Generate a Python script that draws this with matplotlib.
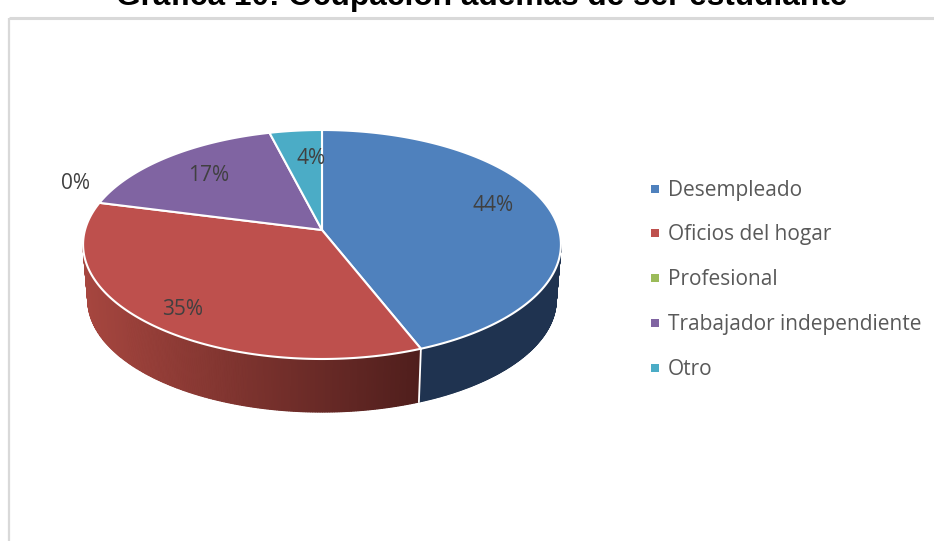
import numpy as np
import matplotlib
matplotlib.use("Agg")
import matplotlib.pyplot as plt

title = "Gráfica 10: Ocupación además de ser estudiante"
categories = ["Desempleado", "Oficios del hogar", "Profesional", "Trabajador independiente", "Otro"]
values = [44, 35, 0, 17, 4]
colors = ["#4F81BD", "#BE504D", "#9BBB59", "#8064A2", "#4BACC6"]
side_left = {0: "#1F3350", 1: "#A6463F"}
side_right = {0: "#1F3350", 1: "#4F1E1C"}
label_pos = [(493, 204), (183, 308), (75, 182), (209, 174), (311, 157)]

fig = plt.figure(figsize=(9.34, 5.41), dpi=100)
ax = fig.add_axes([0, 0, 1, 1])
ax.set_xlim(0, 934)
ax.set_ylim(541, 0)
ax.axis("off")

# perspective projection of the pie disc
AX, AY, K, A, C = 322.0, 230.0, 237.0, 112.66, 0.1266
DEPTH, SHRINK = 55.6, 0.98


def project(theta):
    u, v = np.sin(theta), np.cos(theta)
    d = 1 + C * v
    return K * u / d, A * v / d


def top(theta):
    x, y = project(theta)
    return AX + x, AY - y


def bottom(theta):
    x, y = project(theta)
    return AX + SHRINK * x, AY - SHRINK * y + DEPTH


# frame
ax.plot([9, 9], [541, 18], color="#D9D9D9", lw=1.6, solid_capstyle="butt")
ax.plot([9, 934], [18, 18], color="#D9D9D9", lw=2.2, solid_capstyle="butt")

ends = np.cumsum(values) / np.sum(values) * 2 * np.pi
starts = np.concatenate([[0], ends[:-1]])

# front extremes of the rim (where the side wall begins and ends)
fine = np.linspace(0, 2 * np.pi, 1441)
fx, _ = project(fine)
t_r, t_l = fine[np.argmax(fx)], fine[np.argmin(fx)]


def hex2rgb(c):
    return np.array(matplotlib.colors.to_rgb(c))


# side walls
for i, (s, e) in enumerate(zip(starts, ends)):
    a0, a1 = max(s, t_r), min(e, t_l)
    if a1 <= a0 or i not in side_left:
        continue
    cl, cr = hex2rgb(side_left[i]), hex2rgb(side_right[i])
    th = np.linspace(a0, a1, 200)
    tx, ty = top(th)
    bx, by = bottom(th)
    ax.fill(np.r_[tx, bx[::-1]], np.r_[ty, by[::-1]], color=(cl + cr) / 2, lw=0, zorder=1.5)
    xl = top(np.array([a1]))[0][0]
    xr = top(np.array([a0]))[0][0]
    for j in range(len(th) - 1):
        f = (tx[j:j + 2].mean() - xl) / (xr - xl)
        col = cl * (1 - f) + cr * f
        ax.fill(np.r_[tx[j:j + 2], bx[j:j + 2][::-1]], np.r_[ty[j:j + 2], by[j:j + 2][::-1]],
                color=col, lw=0.9, zorder=2)
    if a0 > t_r:
        ax.plot([tx[0], bx[0]], [ty[0], by[0]], color="white", lw=1.3, zorder=3)

# top faces
for i, (s, e) in enumerate(zip(starts, ends)):
    if e - s <= 0:
        continue
    th = np.linspace(s, e, 300)
    x, y = top(th)
    ax.fill(np.r_[AX, x], np.r_[AY, y], facecolor=colors[i], edgecolor="white",
            lw=1.5, joinstyle="round", zorder=4)

# data labels
for v, (lx, ly) in zip(values, label_pos):
    ax.text(lx, ly + 1.5, f"{v}%", ha="center", va="center", fontsize=15,
            family="Open Sans", color="#404040", zorder=5)

# legend
legend_y = [189, 233, 278, 323, 368]
for c, name, ly in zip(colors, categories, legend_y):
    ax.scatter([655], [ly], marker="s", s=34, color=c, linewidths=0, zorder=5)
    ax.text(668, ly + 1.5, name, ha="left", va="center", fontsize=15,
            family="Open Sans", color="#595959", zorder=5)

ax.text(482, 4.5, title, ha="center", va="baseline", fontsize=22.8, fontweight="bold",
        family="Liberation Sans", color="black", clip_on=False)

fig.savefig("out.png", dpi=100)
